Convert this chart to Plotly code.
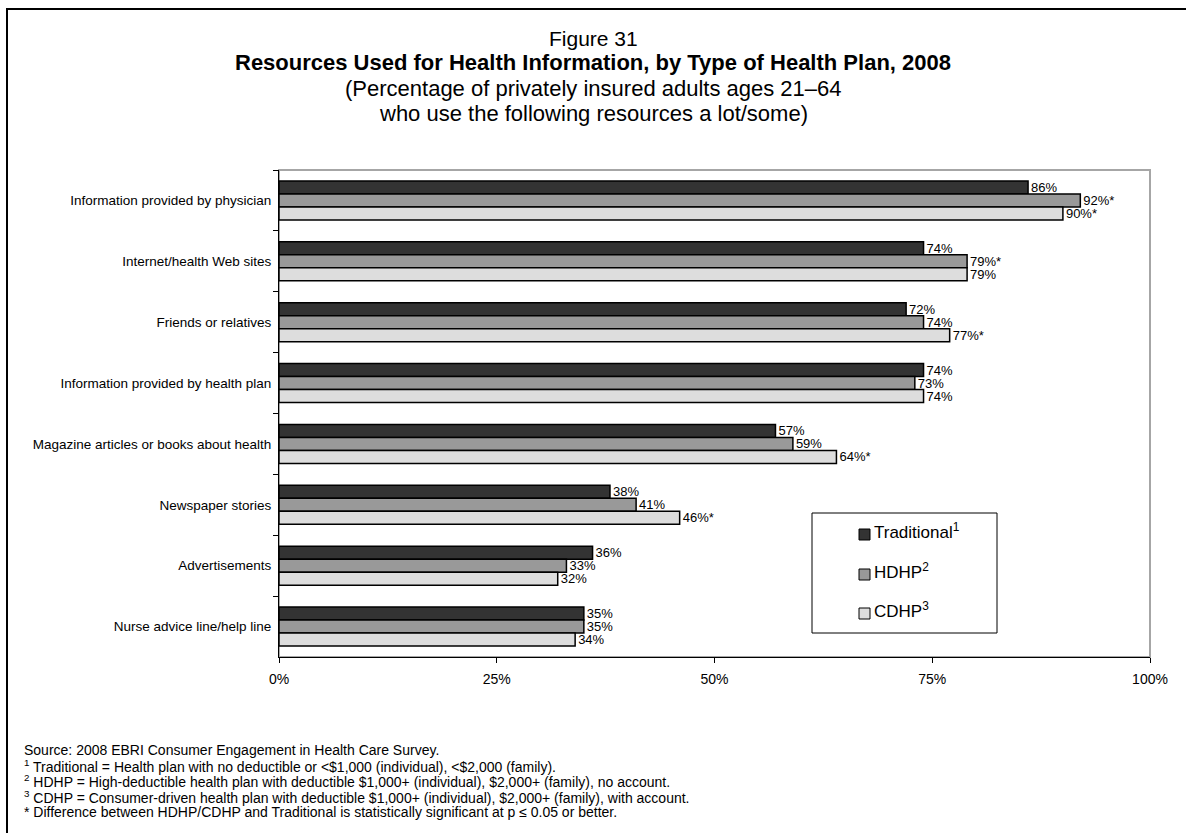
import plotly.graph_objects as go

# Survey categories (top to bottom)
categories = [
    "Information provided by physician",
    "Internet/health Web sites",
    "Friends or relatives",
    "Information provided by health plan",
    "Magazine articles or books about health",
    "Newspaper stories",
    "Advertisements",
    "Nurse advice line/help line",
]

# Share using each resource a lot/some (%)
traditional = [86, 74, 72, 74, 57, 38, 36, 35]
hdhp = [92, 79, 74, 73, 59, 41, 33, 35]
cdhp = [90, 79, 77, 74, 64, 46, 32, 34]

# Statistically significant difference vs. Traditional
traditional_sig = [False] * 8
hdhp_sig = [True, True, False, False, False, False, False, False]
cdhp_sig = [True, False, True, False, True, True, False, False]

series_names = ["Traditional", "HDHP", "CDHP"]
series_marks = ["1", "2", "3"]
series_colors = ["#333333", "#999999", "#dddddd"]

x_ticks = [0, 25, 50, 75, 100]
x_tick_labels = ["0%", "25%", "50%", "75%", "100%"]

footnotes = [
    "Source: 2008 EBRI Consumer Engagement in Health Care Survey.",
    "<sup>1</sup> Traditional = Health plan with no deductible or <$1,000 (individual), <$2,000 (family).",
    "<sup>2</sup> HDHP = High-deductible health plan with deductible $1,000+ (individual), $2,000+ (family), no account.",
    "<sup>3</sup> CDHP = Consumer-driven health plan with deductible $1,000+ (individual), $2,000+ (family), with account.",
    "* Difference between HDHP/CDHP and Traditional is statistically significant at p \u2264 0.05 or better.",
]

W, H = 1186, 833
ML, MR, MT, MB = 279, 36, 170, 176
PW, PH = W - ML - MR, H - MT - MB


def px(x):
    return (x - ML) / PW


def py(y):
    return (H - MB - y) / PH


FONT = "Liberation Sans, Arial, sans-serif"

fig = go.Figure()
for name, vals, sig, color in zip(
    series_names,
    [traditional, hdhp, cdhp],
    [traditional_sig, hdhp_sig, cdhp_sig],
    series_colors,
):
    fig.add_trace(
        go.Bar(
            name=name,
            y=categories,
            x=vals,
            orientation="h",
            marker=dict(color=color, line=dict(color="#000000", width=1.5)),
            text=[f"{v}%" + ("*" if s else "") for v, s in zip(vals, sig)],
            textposition="outside",
            textfont=dict(size=13, color="#000000", family=FONT),
            constraintext="none",
            cliponaxis=False,
            showlegend=False,
        )
    )

shapes = [
    # gray plot-area frame
    dict(type="rect", xref="paper", yref="paper", x0=0, x1=1, y0=0, y1=1,
         line=dict(color="#a6a6a6", width=2), layer="below"),
    # outer page frame
    dict(type="rect", xref="paper", yref="paper", x0=px(7), x1=px(1200),
         y0=py(850), y1=py(9), line=dict(color="#000000", width=2)),
    # legend box
    dict(type="rect", xref="paper", yref="paper", x0=px(812), x1=px(997),
         y0=py(633), y1=py(513), line=dict(color="#000000", width=1),
         fillcolor="#ffffff"),
]

annotations = []
legend_rows = [535, 575, 614]
for name, mark, color, yc in zip(series_names, series_marks, series_colors, legend_rows):
    shapes.append(dict(type="rect", xref="paper", yref="paper",
                       x0=px(859), x1=px(870), y0=py(yc + 5), y1=py(yc - 6),
                       fillcolor=color, line=dict(color="#000000", width=1)))
    annotations.append(dict(xref="paper", yref="paper", x=px(872), y=py(yc - 4),
                            xanchor="left", yanchor="middle", showarrow=False,
                            text=f"{name}<sup>{mark}</sup>",
                            font=dict(size=17, color="#000000", family=FONT)))

titles = [
    ("Figure 31", 38, False, 21),
    ("Resources Used for Health Information, by Type of Health Plan, 2008", 62, True, 22),
    ("(Percentage of privately insured adults ages 21\u201364", 88, False, 22),
    ("who use the following resources a lot/some)", 113, False, 22),
]
for txt, yc, bold, size in titles:
    annotations.append(dict(xref="paper", yref="paper", x=px(593), y=py(yc),
                            xanchor="center", yanchor="middle", showarrow=False,
                            text=f"<b>{txt}</b>" if bold else txt,
                            font=dict(size=size, color="#000000", family=FONT)))

for i, txt in enumerate(footnotes):
    annotations.append(dict(xref="paper", yref="paper", x=px(22), y=py(750 + i * 15.6),
                            xanchor="left", yanchor="middle", showarrow=False,
                            text=txt, font=dict(size=14, color="#000000", family=FONT)))

fig.update_layout(
    width=W, height=H,
    margin=dict(l=ML, r=MR, t=MT, b=MB, pad=0),
    paper_bgcolor="#ffffff", plot_bgcolor="#ffffff",
    barmode="group", bargap=0.36, bargroupgap=0,
    font=dict(family=FONT, color="#000000"),
    shapes=shapes, annotations=annotations,
    xaxis=dict(range=[0, 100], tickvals=x_ticks, ticktext=x_tick_labels,
               showgrid=False, zeroline=False, showline=True, linecolor="#000000",
               linewidth=1, ticks="outside", ticklen=5, tickcolor="#000000",
               ticklabelstandoff=4, tickfont=dict(size=14, family=FONT)),
    yaxis=dict(autorange="reversed", showgrid=False, zeroline=False, showline=True,
               linecolor="#000000", linewidth=1, ticks="outside", ticklen=5,
               tickcolor="#000000", tickson="boundaries", ticklabelstandoff=4,
               tickfont=dict(size=13.5, family=FONT)),
)

fig.write_html("out.html")
